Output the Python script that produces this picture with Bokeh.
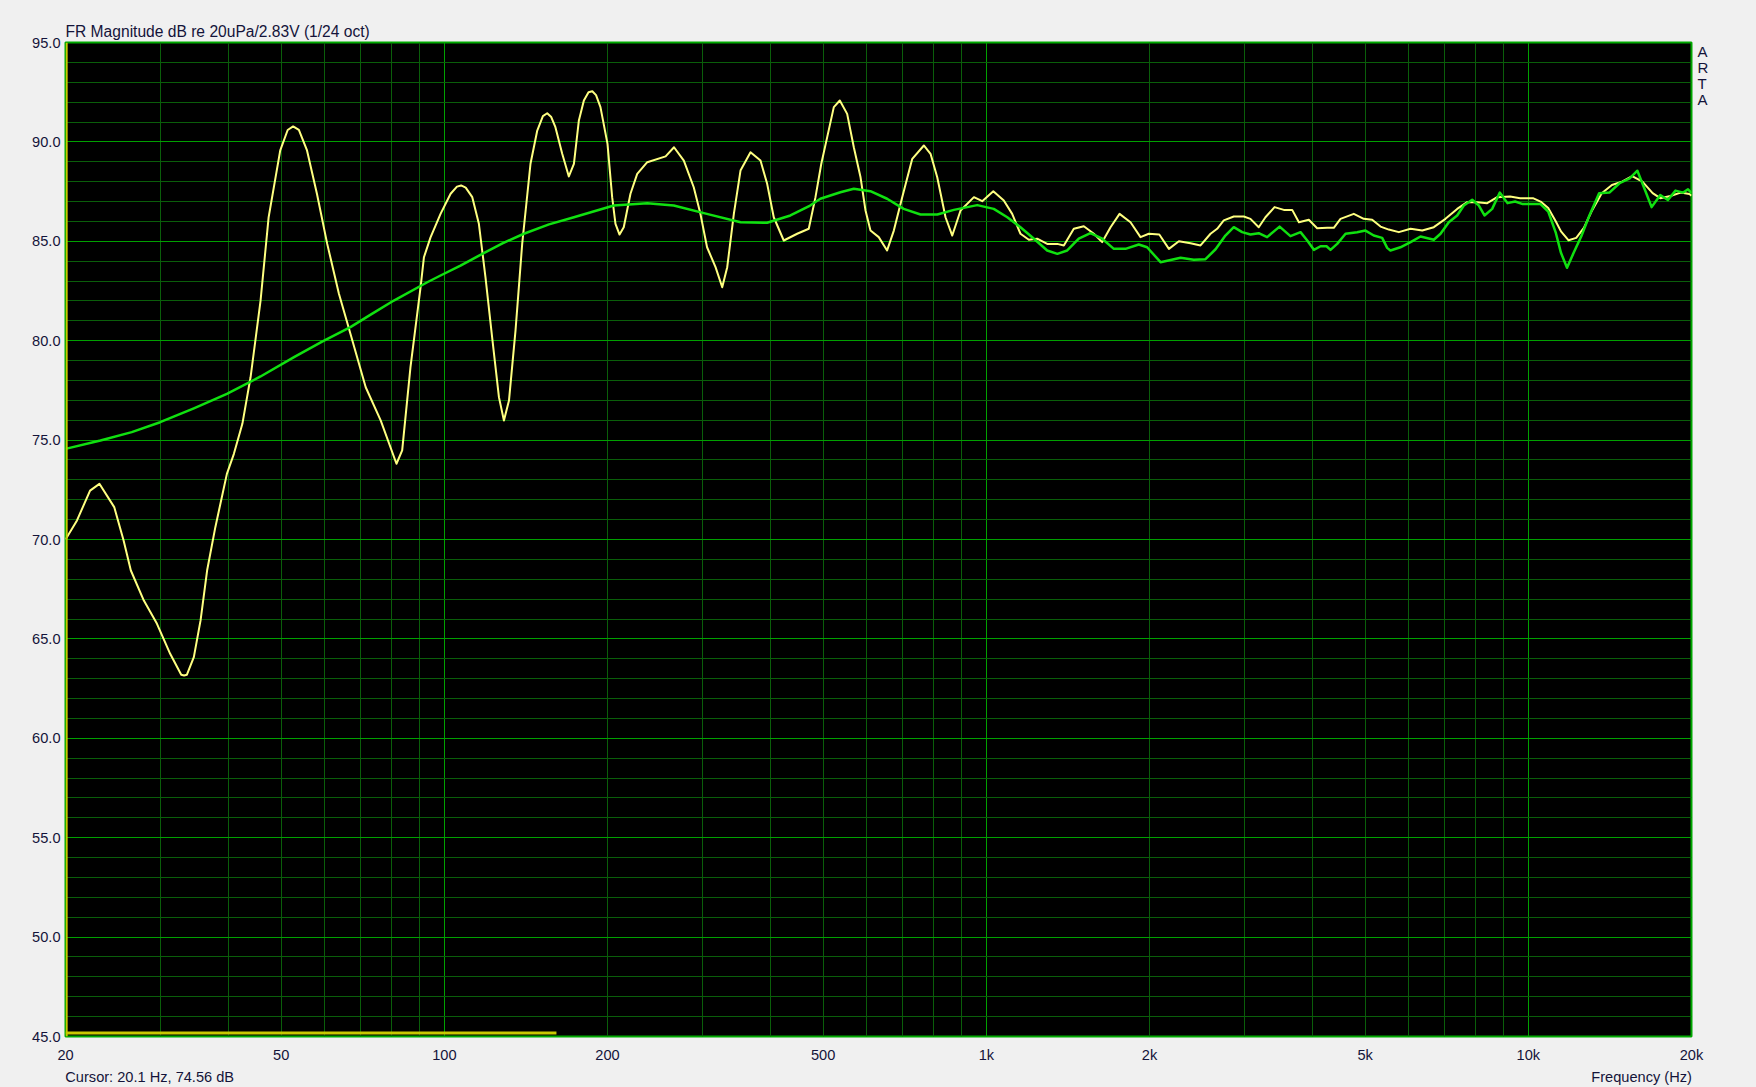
from bokeh.plotting import figure
from bokeh.models import Range1d, FixedTicker, LinearAxis, Span
from bokeh.embed import file_html
from bokeh.resources import INLINE
from bokeh.core.templates import FILE

# ---------------- data ----------------
# raw 1/24 oct response (yellow): (Hz, dB)
raw_points = [
    (20, 70.0), (21.0, 70.96), (22.2, 72.46), (23.1, 72.8), (24.6, 71.63), (25.6, 69.95),
    (26.4, 68.44), (27.9, 66.93), (29.5, 65.76), (31.2, 64.25), (32.7, 63.2), (33.1, 63.16),
    (33.5, 63.2), (34.5, 64.08), (35.5, 65.93), (36.5, 68.44), (37.8, 70.62), (39.7, 73.3),
    (40.9, 74.31), (42.4, 75.82), (43.9, 78.16), (45.8, 82.0), (47.4, 86.2), (49.8, 89.57),
    (51.4, 90.6), (52.6, 90.78), (53.9, 90.6), (55.8, 89.57),
    (58.2, 87.39), (60.8, 84.87), (63.9, 82.36), (67.1, 80.35), (71.6, 77.66), (76.3, 75.99),
    (81.6, 73.81), (83.6, 74.48), (86.6, 78.67), (90.4, 82.69), (91.7, 84.2), (94.3, 85.2),
    (98.4, 86.38), (102.7, 87.39), (105.5, 87.75), (107.4, 87.81), (109.5, 87.7), (112.6, 87.22),
    (115.8, 85.88), (119.1, 83.19),
    (122.5, 80.18), (126.1, 77.16), (128.8, 75.99), (131.6, 76.99), (135.3, 80.51), (139.2, 84.87),
    (144.2, 88.9), (148.4, 90.57), (152, 91.3), (154.8, 91.44), (157.5, 91.25), (160.3, 90.74),
    (165, 89.4), (169.7, 88.26),
    (173.4, 88.9), (177.1, 91.08), (180.9, 92.08), (184.5, 92.5), (187.5, 92.55), (190.5, 92.35),
    (194.1, 91.75), (200, 89.9),
    (204, 87.22), (206.9, 85.88), (210.5, 85.34), (214.3, 85.71), (220.5, 87.39), (226.9, 88.39),
    (236.8, 88.98), (256, 89.27), (265.3, 89.73), (276.6, 89.06), (288.5, 87.72), (296.8, 86.38),
    (305.3, 84.7), (316.5, 83.7), (325.6, 82.69), (332.6, 83.7), (342.1, 86.38), (351.9, 88.56),
    (367.2, 89.48), (383.1, 89.06), (394.1, 87.89), (405.3, 86.21), (422.9, 85.04), (447.7, 85.38),
    (470.3, 85.63), (483.9, 87.22), (496, 88.9), (508.6, 90.24), (523.1, 91.75), (536.6, 92.08),
    (553.6, 91.41), (569.5, 89.73), (586, 88.22), (598.5, 86.55), (611.3, 85.54), (633.1, 85.21),
    (656, 84.54), (675, 85.54), (699.5, 87.22), (730, 89.15), (766.8, 89.82), (788.9, 89.4),
    (811.7, 88.22), (840.8, 86.21), (865.2, 85.29), (896.2, 86.55), (948.6, 87.22), (982.7, 87.02),
    (1030, 87.52), (1077, 87.05), (1116, 86.38), (1156, 85.38), (1198, 85.08), (1241, 85.13),
    (1295, 84.87), (1352, 84.87), (1390, 84.79), (1450, 85.63), (1513, 85.76), (1579, 85.38),
    (1636, 84.96), (1695, 85.71), (1761, 86.38), (1845, 85.96), (1925, 85.21), (1994, 85.38),
    (2085, 85.34), (2172, 84.62), (2266, 85.0), (2381, 84.9), (2484, 84.79), (2592, 85.38),
    (2666, 85.63), (2742, 86.05), (2861, 86.25), (2986, 86.25), (3071, 86.13), (3181, 85.71),
    (3273, 86.21), (3402, 86.72), (3539, 86.58), (3667, 86.58), (3773, 85.96), (3935, 86.08),
    (4077, 85.66), (4255, 85.68), (4376, 85.68), (4502, 86.13), (4764, 86.38), (4970, 86.13),
    (5151, 86.08), (5337, 85.74), (5528, 85.59), (5768, 85.46), (6063, 85.63), (6372, 85.54),
    (6693, 85.71), (7032, 86.13), (7391, 86.63), (7713, 86.97), (8047, 86.97), (8396, 86.92),
    (8760, 87.22), (9251, 87.25), (9660, 87.17), (10197, 87.17), (10533, 87.0), (10881, 86.67),
    (11240, 86.0), (11487, 85.5), (11865, 85.05), (12256, 85.17), (12660, 85.67), (13078, 86.5),
    (13658, 87.42), (14263, 87.83), (14890, 88.0), (15545, 88.28), (16236, 88.0), (16956, 87.42),
    (17515, 87.17), (18290, 87.28), (19099, 87.45), (19815, 87.38), (20000, 87.3),
]

# overlay / smoothed response (green): (Hz, dB)
smooth_points = [
    (20, 74.56), (23.2, 74.98), (26.5, 75.4), (29.9, 75.9), (34.5, 76.6), (39.7, 77.33),
    (45.8, 78.2), (52.8, 79.17), (59.5, 79.95), (67.1, 80.68), (73.5, 81.35),
    (80.7, 82.02), (93, 82.94), (98.4, 83.28), (107.1, 83.78), (117.5, 84.37), (128, 84.9),
    (140.2, 85.38), (156, 85.85),
    (173.4, 86.21), (205.4, 86.8), (236.8, 86.92), (265, 86.8), (305, 86.38), (352, 85.96),
    (394, 85.93), (435, 86.3), (473, 86.8), (494, 87.14), (538, 87.47), (569.5, 87.64),
    (611, 87.52), (656, 87.14), (704, 86.63), (756, 86.35), (812, 86.35), (871, 86.58),
    (962, 86.82), (1032, 86.63), (1093, 86.21), (1156, 85.71), (1224, 85.13), (1295, 84.54),
    (1352, 84.37), (1410, 84.54), (1481, 85.13), (1556, 85.41), (1636, 85.13), (1719, 84.62),
    (1806, 84.62), (1911, 84.84), (1980, 84.7), (2096, 83.95), (2282, 84.17), (2414, 84.07),
    (2537, 84.1), (2648, 84.6), (2761, 85.29), (2861, 85.71), (2965, 85.46), (3071, 85.34),
    (3181, 85.41), (3296, 85.21), (3476, 85.74), (3640, 85.26), (3799, 85.46), (3909, 85.04),
    (4021, 84.57), (4136, 84.75), (4243, 84.75), (4315, 84.57), (4439, 84.87), (4600, 85.38),
    (4832, 85.46), (5006, 85.54), (5186, 85.29), (5374, 85.17), (5490, 84.67), (5566, 84.54),
    (5808, 84.7), (6063, 84.96), (6325, 85.24), (6693, 85.08), (6886, 85.38), (7132, 85.96),
    (7391, 86.3), (7603, 86.8), (7878, 87.09), (8104, 86.8), (8300, 86.3), (8576, 86.63),
    (8858, 87.45), (9152, 86.92), (9453, 87.0), (9765, 86.87), (10533, 86.87), (10881, 86.5),
    (11240, 85.42), (11487, 84.42), (11786, 83.67), (12122, 84.42), (12523, 85.25), (12937, 86.25),
    (13507, 87.42), (14110, 87.45), (14731, 87.92), (15381, 88.17), (15891, 88.55), (16414, 87.58),
    (16882, 86.72), (17515, 87.33), (18092, 87.08), (18688, 87.55), (19305, 87.45), (19705, 87.62),
    (20000, 87.42),
]

raw_freq = [f for f, _ in raw_points]
raw_db = [d for _, d in raw_points]
smooth_freq = [f for f, _ in smooth_points]
smooth_db = [d for _, d in smooth_points]

# marker bar along the bottom (yellow)
marker_freq = [20, 161]
marker_db = [45.17, 45.17]

cursor_freq = 20.1
cursor_db = 74.56

x_ticks = [20, 50, 100, 200, 500, 1000, 2000, 5000, 10000, 20000]
x_tick_labels = ["20", "50", "100", "200", "500", "1k", "2k", "5k", "10k", "20k"]
y_ticks = [45, 50, 55, 60, 65, 70, 75, 80, 85, 90, 95]
y_tick_labels = ["45.0", "50.0", "55.0", "60.0", "65.0", "70.0", "75.0", "80.0", "85.0", "90.0", "95.0"]
x_major_grid = [100, 1000, 10000]
x_minor_grid = [m * d for d in (10, 100, 1000) for m in range(2, 10)] + [20000]
y_minor_grid = list(range(45, 96))

title_text = "FR Magnitude dB re 20uPa/2.83V (1/24 oct)"
cursor_text = "Cursor: %.1f Hz, %.2f dB" % (cursor_freq, cursor_db)
xlabel_text = "Frequency (Hz)"
brand_letters = ["A", "R", "T", "A"]
brand_label_db = [94.55, 93.72, 92.94, 92.13]   # where the stacked letters sit on the right
footer_label_hz = [28.6, 16180.0]               # centres of the two footer texts (left / right)

# ---------------- styling ----------------
FONT = "Liberation Sans"
TXT = "#14143a"
BG = "#f0f0f0"
W, H = 1756, 1087
ML, MR, MT, MB = 65, 65, 42, 51

p = figure(width=W, height=H, x_axis_type="log",
           x_range=Range1d(20, 20000), y_range=Range1d(45, 95),
           output_backend="svg", toolbar_location=None,
           background_fill_color="black", border_fill_color=BG,
           min_border_left=ML, min_border_right=MR,
           min_border_top=MT, min_border_bottom=MB,
           title=title_text)
p.outline_line_color = "#00a800"
p.outline_line_width = 2

p.title.align = "left"
p.title.offset = 0
p.title.standoff = 5
p.title.text_font = FONT
p.title.text_font_size = "15.6px"
p.title.text_font_style = "normal"
p.title.text_color = TXT

p.xaxis.ticker = FixedTicker(ticks=x_ticks)
p.xaxis.major_label_overrides = dict(zip(x_ticks, x_tick_labels))
p.yaxis.ticker = FixedTicker(ticks=y_ticks)
p.yaxis.major_label_overrides = dict(zip(y_ticks, y_tick_labels))

# stacked "ARTA" letters on the right
p.add_layout(LinearAxis(ticker=FixedTicker(ticks=brand_label_db),
                        major_label_overrides=dict(zip(brand_label_db, brand_letters))), "right")

# footer row: cursor read-out (left) and axis name (right)
p.add_layout(LinearAxis(ticker=FixedTicker(ticks=footer_label_hz),
                        major_label_overrides=dict(zip(footer_label_hz, [cursor_text, xlabel_text]))),
             "below")

for ax in p.axis:
    ax.axis_line_color = None
    ax.major_tick_line_color = None
    ax.minor_tick_line_color = None
    ax.major_tick_out = 0
    ax.major_tick_in = 0
    ax.minor_tick_out = 0
    ax.minor_tick_in = 0
    ax.major_label_text_font = FONT
    ax.major_label_text_font_size = "14.6px"
    ax.major_label_text_color = TXT
p.xaxis[0].major_label_standoff = 10
p.xaxis[1].major_label_standoff = 3
p.yaxis[0].major_label_standoff = 5
p.yaxis[1].major_label_standoff = 6
p.yaxis[1].major_label_text_font_size = "15px"

p.xgrid.ticker = FixedTicker(ticks=x_major_grid, minor_ticks=x_minor_grid)
p.ygrid.ticker = FixedTicker(ticks=y_ticks, minor_ticks=y_minor_grid)
for g in (p.xgrid, p.ygrid):
    g.grid_line_color = "#00a000"
    g.grid_line_width = 1
    g.minor_grid_line_color = "#0a5e0a"
    g.minor_grid_line_width = 1

# cursor line and bottom marker
p.add_layout(Span(location=cursor_freq, dimension="height", line_color="#c8c800", line_width=2))
p.line(marker_freq, marker_db, line_color="#c8c800", line_width=3)

# curves
p.line(raw_freq, raw_db, line_color="#ffff80", line_width=2, line_join="round")
p.line(smooth_freq, smooth_db, line_color="#10e010", line_width=2.5, line_join="round")

tmpl = FILE.environment.from_string(
    '{% extends "file.html" %}{% block preamble %}<style>html,body{background:#f0f0f0;}</style>{% endblock %}'
)
open("out.html", "w").write(file_html(p, INLINE, template=tmpl))
